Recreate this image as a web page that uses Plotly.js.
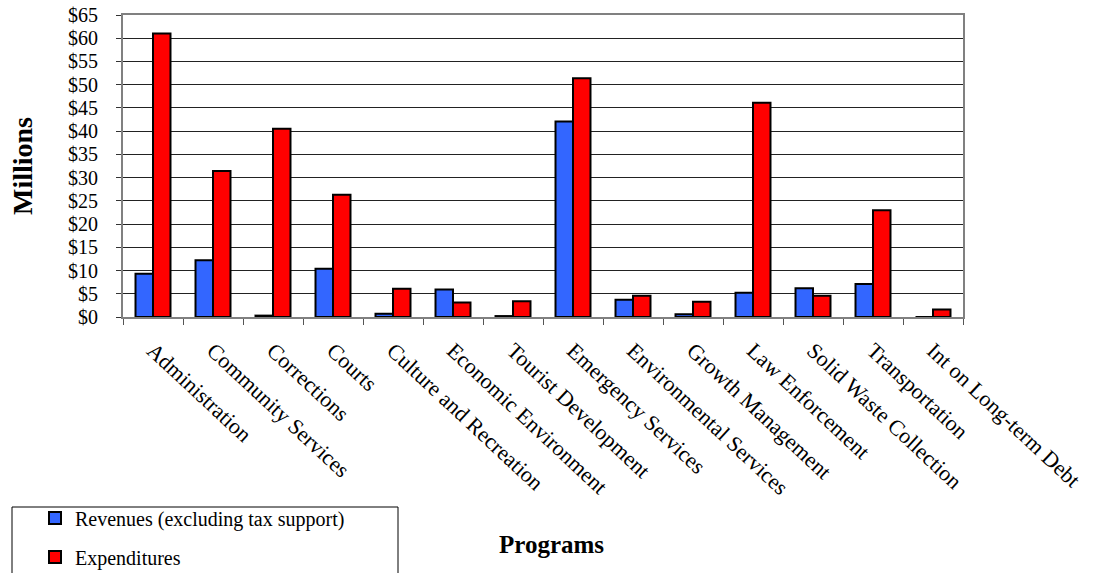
<!DOCTYPE html>
<html>
<head>
<meta charset="utf-8">
<script src="https://cdn.plot.ly/plotly-3.0.1.min.js"></script>
<style>html,body{margin:0;padding:0;background:#fff;}#chart{width:1094px;height:573px;}</style>
</head>
<body>
<div id="chart"></div>
<script>
const categories = ["Administration", "Community Services", "Corrections", "Courts", "Culture and Recreation", "Economic Environment", "Tourist Development", "Emergency Services", "Environmental Services", "Growth Management", "Law Enforcement", "Solid Waste Collection", "Transportation", "Int on Long-term Debt"];
const revenues = [9.3, 12.2, 0.3, 10.4, 0.7, 5.9, 0.2, 42.1, 3.7, 0.6, 5.2, 6.2, 7.1, 0];
const expenditures = [61.0, 31.4, 40.5, 26.3, 6.1, 3.1, 3.4, 51.4, 4.6, 3.3, 46.1, 4.6, 23.0, 1.6];
const seriesNames = ["Revenues (excluding tax support)", "Expenditures"];
const yTickVals = [0, 5, 10, 15, 20, 25, 30, 35, 40, 45, 50, 55, 60, 65];
const yTickText = ["$0", "$5", "$10", "$15", "$20", "$25", "$30", "$35", "$40", "$45", "$50", "$55", "$60", "$65"];

const FONT = 'Liberation Serif, Times New Roman, serif';

const traces = [
  {type: 'bar', name: seriesNames[0], x: categories, y: revenues,
   marker: {color: '#3366FF', line: {color: '#000', width: 2}}, legend: 'legend'},
  {type: 'bar', name: seriesNames[1], x: categories, y: expenditures,
   marker: {color: '#FF0000', line: {color: '#000', width: 2}}, legend: 'legend2'}
];

const W = 1094, H = 573, L = 123, R = 131, T = 15, B = 256;
const pw = W - L - R, ph = H - T - B;
const px = v => (v - L) / pw;
const py = v => (H - B - v) / ph;
const cy = v => (H - v) / H;

const layout = {
  width: W, height: H,
  margin: {l: L, r: R, t: T, b: B, pad: 0, autoexpand: false},
  paper_bgcolor: '#fff', plot_bgcolor: '#fff',
  font: {family: FONT, color: '#000', size: 19},
  barmode: 'group', bargap: 0.417, bargroupgap: 0,
  xaxis: {
    type: 'category', tickangle: 43, tickson: 'boundaries',
    ticks: 'outside', ticklen: 6, tickcolor: '#555', tickwidth: 1,
    ticklabelstandoff: 10,
    showline: true, linecolor: '#808080', linewidth: 2, mirror: true,
    showgrid: false, automargin: false,
    tickfont: {family: FONT, size: 22, color: '#000'}
  },
  yaxis: {
    range: [0, 65], tickmode: 'array', tickvals: yTickVals, ticktext: yTickText,
    ticks: 'outside', ticklen: 5, tickcolor: '#333', tickwidth: 1,
    ticklabelstandoff: 14,
    showline: true, linecolor: '#808080', linewidth: 2, mirror: true,
    showgrid: true, gridcolor: '#222', gridwidth: 1, zeroline: false,
    automargin: false,
    tickfont: {family: FONT, size: 20, color: '#000'}
  },
  showlegend: true,
  legend: {xref: 'container', yref: 'container', x: 35 / W, xanchor: 'left', y: cy(518), yanchor: 'middle',
    bgcolor: 'rgba(0,0,0,0)', borderwidth: 0, font: {family: FONT, size: 20, color: '#000'}},
  legend2: {xref: 'container', yref: 'container', x: 35 / W, xanchor: 'left', y: cy(557), yanchor: 'middle',
    bgcolor: 'rgba(0,0,0,0)', borderwidth: 0, font: {family: FONT, size: 20, color: '#000'}},
  shapes: [
    {type: 'rect', xref: 'paper', yref: 'paper', x0: px(12), x1: px(398), y0: py(507), y1: py(585),
     line: {color: '#000', width: 1}, fillcolor: 'rgba(0,0,0,0)', layer: 'below'}
  ],
  annotations: [
    {text: '<b>Millions</b>', xref: 'paper', yref: 'paper', x: px(22), y: py(166),
     xanchor: 'center', yanchor: 'middle', showarrow: false, textangle: -90,
     font: {family: FONT, size: 28, color: '#000'}},
    {text: '<b>Programs</b>', xref: 'paper', yref: 'paper', x: px(551), y: py(544),
     xanchor: 'center', yanchor: 'middle', showarrow: false,
     font: {family: FONT, size: 25, color: '#000'}}
  ]
};

Plotly.newPlot('chart', traces, layout, {displayModeBar: false, staticPlot: true});
</script>
</body>
</html>
